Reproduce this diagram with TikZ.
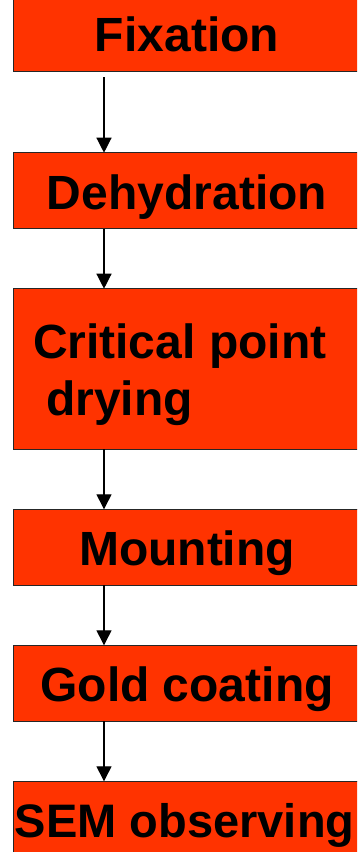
\documentclass[tikz,border=0pt]{standalone}
\usepackage{fontspec}
\setmainfont{Liberation Sans}
\usetikzlibrary{arrows.meta}
\definecolor{boxred}{HTML}{FF3300}
\begin{document}
\begin{tikzpicture}[x=1pt,y=-1pt,
  bigtext/.style={font=\fontsize{48}{57}\selectfont\bfseries,inner sep=0pt,outer sep=0pt},
  stepbox/.style={draw=black!85,line width=1pt,fill=boxred,rectangle,
    minimum width=348pt,minimum height=76pt,inner sep=0pt,outer sep=0pt,
    bigtext,text height=36.6pt,text depth=0pt},
  arr/.style={line width=1.3pt,-{Triangle[width=15pt,length=15pt]}}]
\useasboundingbox (0,0) rectangle (357,852);
\begin{scope}
\clip (0,0) rectangle (357,852);
\node[stepbox] (fix) at (187,33) {Fixation};
\node[stepbox] (deh) at (187,190.7) {Dehydration};
\node[stepbox,minimum height=160.6pt] (cpd) at (187,369) {};
\node[bigtext,anchor=base west] (cpda) at (33,358) {Critical point};
\node[bigtext,anchor=base west] (cpdb) at (46,415) {drying};
\node[stepbox] (mnt) at (187,547.3) {Mounting};
\node[stepbox] (gld) at (187,683.3) {Gold coating};
\node[stepbox] (sem) at (187,819.3) {};
\node[bigtext,font=\fontsize{47}{57}\selectfont\bfseries,anchor=base west] (semt) at (15,837) {SEM observing};
\coordinate (col) at (104,0);
\draw[arr,shorten <=6pt] (fix.south -| col) -- (deh.north -| col);
\draw[arr] (deh.south -| col) -- (cpd.north -| col);
\draw[arr] (cpd.south -| col) -- (mnt.north -| col);
\draw[arr] (mnt.south -| col) -- (gld.north -| col);
\draw[arr] (gld.south -| col) -- (sem.north -| col);
\end{scope}
\end{tikzpicture}
\end{document}
